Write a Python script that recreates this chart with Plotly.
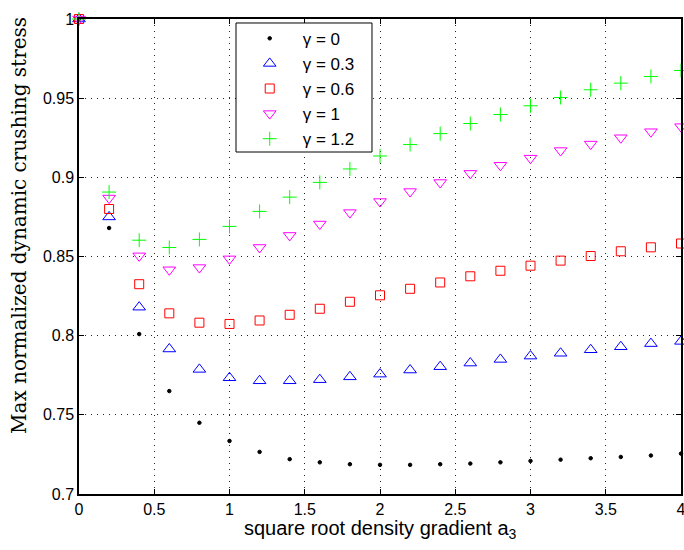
import plotly.graph_objects as go

x_vals = [0, 0.2, 0.4, 0.6, 0.8, 1.0, 1.2, 1.4, 1.6, 1.8, 2.0, 2.2, 2.4, 2.6, 2.8, 3.0, 3.2, 3.4, 3.6, 3.8, 4.0]

g0 = [1.0, 0.868, 0.801, 0.765, 0.745, 0.7335, 0.7266, 0.722, 0.720, 0.7188, 0.7184,
      0.7184, 0.7188, 0.7192, 0.7200, 0.7209, 0.7217, 0.7226, 0.7234, 0.7243, 0.7255]
g03 = [1.0, 0.875, 0.818, 0.7916, 0.7787, 0.7734, 0.7715, 0.7715, 0.7722, 0.774, 0.7757,
       0.7783, 0.7804, 0.7827, 0.785, 0.7871, 0.7889, 0.7911, 0.793, 0.795, 0.7964]
g06 = [1.0, 0.880, 0.8325, 0.8141, 0.8082, 0.8074, 0.8096, 0.8132, 0.817, 0.8214, 0.8255,
       0.8296, 0.8336, 0.8375, 0.841, 0.8442, 0.8474, 0.8503, 0.8533, 0.8558, 0.8582]
g1 = [1.0, 0.8869, 0.8504, 0.8416, 0.843, 0.8485, 0.8557, 0.8633, 0.8705, 0.8777, 0.8847,
      0.891, 0.8967, 0.9025, 0.9076, 0.9121, 0.9169, 0.921, 0.925, 0.9288, 0.932]
g12 = [1.0, 0.8907, 0.8603, 0.8557, 0.8608, 0.869, 0.8785, 0.8875, 0.8968, 0.9053, 0.9135,
       0.9207, 0.9276, 0.934, 0.9397, 0.9452, 0.9504, 0.9553, 0.9595, 0.9637, 0.9675]

x_title = "square root density gradient a<sub>3</sub>"
y_title = "Max normalized dynamic crushing stress"

series = [
    ("γ = 0", g0, "circle", "black", 3.5),
    ("γ = 0.3", g03, "triangle-up-open", "blue", 11),
    ("γ = 0.6", g06, "square-open", "red", 9),
    ("γ = 1", g1, "triangle-down-open", "magenta", 11),
    ("γ = 1.2", g12, "cross-thin-open", "#00ff00", 10),
]

fig = go.Figure()
for name, ys, sym, col, sz in series:
    fig.add_trace(go.Scatter(
        x=x_vals, y=ys, mode="markers", name=name, cliponaxis=False,
        marker=dict(symbol=sym, color=col, size=sz, line=dict(color=col, width=1)),
    ))

sans = "Liberation Sans, Arial, sans-serif"
axis_common = dict(
    showline=True, linecolor="black", linewidth=1.5, mirror="ticks",
    ticks="inside", ticklen=5, tickcolor="black", tickwidth=1,
    showgrid=True, gridcolor="#222222", gridwidth=1, griddash="1px,5px",
    zeroline=False, ticklabeloverflow="allow",
    tickfont=dict(family=sans, size=16, color="black"),
)

fig.update_xaxes(range=[0, 4], dtick=0.5, tick0=0, **axis_common)
fig.update_yaxes(range=[0.7, 1.0], dtick=0.05, tick0=0.7, **axis_common)

fig.update_layout(
    width=684, height=550,
    margin=dict(l=79, r=3, t=19, b=56, autoexpand=False),
    plot_bgcolor="white", paper_bgcolor="white",
    showlegend=True,
    legend=dict(x=0.262, y=0.9963, xanchor="left", yanchor="top",
                borderwidth=0, bgcolor="rgba(0,0,0,0)",
                itemwidth=56,
                font=dict(family=sans, size=17, color="black")),
    shapes=[
        dict(type="rect", xref="paper", yref="paper",
             x0=0.2608, x1=0.4867, y0=0.72, y1=0.9916,
             line=dict(color="black", width=1), fillcolor="white", layer="above"),
    ],
    annotations=[
        dict(text=x_title, xref="paper", yref="paper", x=0.5, y=-0.044,
             xanchor="center", yanchor="top", showarrow=False,
             font=dict(family=sans, size=20, color="black")),
        dict(text=y_title, xref="paper", yref="paper", x=-0.1, y=0.566,
             xanchor="center", yanchor="middle", textangle=-90, showarrow=False,
             font=dict(family="DejaVu Serif, Liberation Serif, serif", size=20, color="black")),
    ],
)

fig.write_html("out.html", config={"displayModeBar": False},
               post_script="document.body.style.margin='0';document.body.style.overflow='hidden';")
